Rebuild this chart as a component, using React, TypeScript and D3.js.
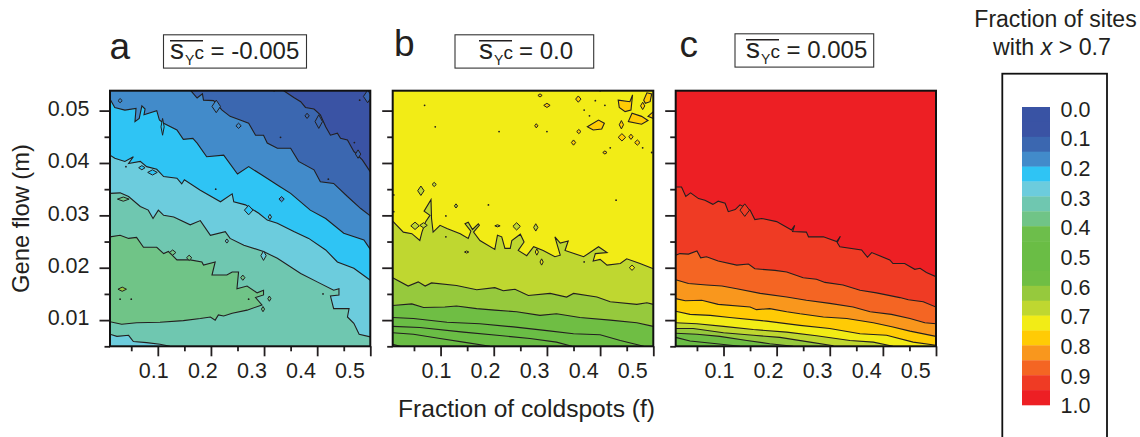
import React, { useEffect, useRef } from "react";
import * as d3 from "d3";

type Pt = [number, number];
type Contour = { level: number; points: Pt[] };

// fill colours of the 20 bands, 0.0 - 1.0
const bandColors = [
  "#3953A4", "#3A53A4", "#3B67B0", "#428BCA", "#2FC4F4",
  "#6CCCDD", "#6FC7B0", "#70C487", "#6DBE4B", "#6ABD45",
  "#6ABD45", "#6FBE44", "#96C93D", "#BFD730", "#F2EC16",
  "#FFCB05", "#F9971D", "#F46523", "#EF3B24", "#ED1F24",
];
const legendLabels = ["0.0", "0.1", "0.2", "0.3", "0.4", "0.5", "0.6", "0.7", "0.8", "0.9", "1.0"];

const fMajor = [0.1, 0.2, 0.3, 0.4, 0.5];
const fMinor = [0.05, 0.15, 0.25, 0.35, 0.45];
const mMajor = [0.01, 0.02, 0.03, 0.04, 0.05];
const mMinor = [0.005, 0.015, 0.025, 0.035, 0.045];

// ---- panel a, contours as [f, m]
const a1: Pt[] = [[.337,.0538],[.356,.0525],[.369,.0517],[.378,.0506],[.394,.0503],[.406,.0492],[.416,.0469],[.425,.0453],[.438,.0457],[.444,.0447],[.457,.0444],[.469,.0422],[.485,.0406],[.5,.0383]];
const a2: Pt[] = [[.162,.0538],[.174,.0524],[.184,.0532],[.186,.052],[.205,.0519],[.221,.0501],[.236,.0489],[.255,.0482],[.271,.0476],[.284,.0453],[.299,.0453],[.306,.0438],[.325,.0428],[.35,.0428],[.365,.0403],[.394,.0387],[.406,.0364],[.431,.0361],[.457,.0336],[.482,.0313],[.5,.0299]];
const a3: Pt[] = [[.01,.0522],[.019,.0506],[.038,.0501],[.059,.0504],[.057,.0479],[.065,.0485],[.07,.0509],[.076,.0503],[.074,.0492],[.098,.05],[.103,.0482],[.111,.0476],[.136,.0463],[.148,.0445],[.166,.0447],[.174,.0438],[.192,.0412],[.224,.0415],[.25,.0379],[.271,.0393],[.296,.0377],[.328,.0356],[.35,.0342],[.387,.031],[.416,.0294],[.45,.0266],[.488,.0253],[.5,.0235]];
const a4: Pt[] = [[.01,.0415],[.019,.0409],[.038,.0403],[.054,.0412],[.045,.0399],[.067,.0403],[.079,.0393],[.098,.0388],[.111,.0374],[.136,.0371],[.145,.036],[.15,.0368],[.18,.0348],[.218,.0326],[.24,.0341],[.243,.0326],[.265,.032],[.29,.0304],[.306,.0291],[.325,.0285],[.356,.0269],[.384,.0256],[.416,.0234],[.438,.0211],[.469,.0199],[.5,.0176]];
const a5: Pt[] = [[.01,.0342],[.029,.0343],[.045,.0336],[.067,.0317],[.082,.031],[.091,.0294],[.101,.031],[.111,.03],[.13,.0297],[.161,.0282],[.18,.029],[.199,.0262],[.227,.0269],[.236,.0256],[.262,.0243],[.299,.0231],[.325,.0218],[.369,.0189],[.4,.0173],[.431,.0157],[.441,.016],[.441,.0148],[.425,.0146],[.431,.0122],[.46,.0122],[.457,.0106],[.469,.0094],[.479,.0073],[.5,.0068]];
const a6: Pt[] = [[.01,.0259],[.029,.0262],[.045,.0256],[.06,.0258],[.073,.0239],[.098,.0239],[.111,.0227],[.12,.0231],[.136,.0215],[.161,.0215],[.183,.0211],[.186,.0205],[.208,.0211],[.202,.0186],[.23,.0186],[.24,.0192],[.252,.0192],[.249,.016],[.268,.0165],[.287,.0152],[.299,.0157],[.299,.0148],[.284,.0143],[.296,.0129],[.268,.0119],[.24,.0113],[.224,.0108],[.214,.011],[.208,.01],[.199,.0106],[.18,.0103],[.148,.0099],[.104,.0096],[.06,.0095],[.032,.0092],[.01,.0097]];
const a7: Pt[] = [[.01,.0073],[.023,.0069],[.045,.0071],[.054,.0059],[.079,.0057],[.104,.0054],[.123,.005]];

// ---- panel b
const b1: Pt[] = [[.01,.0289],[.03,.0268],[.046,.0265],[.061,.0252],[.065,.0268],[.072,.0288],[.08,.03],[.069,.0308],[.082,.033],[.083,.0294],[.086,.0268],[.099,.0281],[.112,.0275],[.137,.0265],[.152,.0256],[.157,.027],[.146,.0284],[.152,.0287],[.16,.0273],[.171,.0284],[.173,.0281],[.162,.0268],[.174,.0252],[.202,.0235],[.207,.0262],[.215,.0259],[.221,.0237],[.231,.0237],[.234,.0252],[.25,.0264],[.257,.0249],[.246,.0233],[.262,.0223],[.275,.024],[.293,.0233],[.315,.0221],[.325,.0224],[.315,.0259],[.325,.0247],[.34,.0251],[.334,.0233],[.369,.0221],[.397,.024],[.413,.0229],[.391,.0227],[.387,.0213],[.4,.0216],[.413,.0205],[.438,.0208],[.45,.0217],[.475,.0208],[.5,.0198]];
const b2: Pt[] = [[.01,.0181],[.039,.0165],[.058,.0173],[.071,.0165],[.083,.0171],[.13,.0166],[.168,.0158],[.202,.0162],[.218,.0156],[.24,.0159],[.265,.0147],[.306,.0151],[.337,.0144],[.35,.0151],[.394,.0144],[.419,.0135],[.469,.013],[.488,.0133],[.5,.013]];
const b3: Pt[] = [[.01,.0128],[.046,.0131],[.068,.0124],[.108,.0125],[.13,.0127],[.168,.0122],[.202,.0119],[.243,.0116],[.287,.0109],[.318,.0112],[.362,.0105],[.419,.01],[.469,.0095],[.5,.0088]];
const b4: Pt[] = [[.01,.0105],[.049,.0103],[.112,.0096],[.174,.0093],[.237,.0087],[.3,.008],[.35,.0074],[.4,.0072],[.438,.0061],[.482,.005]];
const b5: Pt[] = [[.01,.0088],[.061,.0086],[.143,.0077],[.206,.0071],[.268,.0065],[.318,.0058],[.347,.005]];
const b6: Pt[] = [[.01,.0076],[.049,.0073],[.099,.0065],[.143,.0058],[.193,.005]];
const b7: Pt[] = [[.01,.0054],[.024,.005]];

// orange patches at the top right of b
const bPatch1: Pt[] = [[.434,.052],[.456,.0517],[.461,.053],[.458,.0501],[.447,.0498],[.436,.0506]];
const bPatch2: Pt[] = [[.453,.0479],[.46,.0495],[.478,.0489],[.49,.0481],[.478,.0474]];
const bPatch3: Pt[] = [[.376,.0469],[.397,.0482],[.408,.0476],[.403,.0465],[.387,.0463]];
const bPatch4: Pt[] = [[.482,.052],[.488,.0534],[.497,.0532],[.494,.0517],[.485,.0514]];
const bPatch5: Pt[] = [[.49,.0489],[.5,.0498],[.5,.0485]];

// ---- panel c
const c1: Pt[] = [[.01,.0354],[.021,.0354],[.029,.0336],[.038,.0343],[.053,.0332],[.065,.0329],[.08,.0321],[.09,.0327],[.103,.0323],[.109,.0307],[.122,.0311],[.131,.032],[.15,.031],[.159,.0292],[.172,.0294],[.2,.0288],[.228,.0272],[.234,.0281],[.23,.0269],[.256,.0268],[.26,.0259],[.288,.0259],[.313,.025],[.32,.026],[.314,.0248],[.319,.024],[.36,.0234],[.371,.022],[.379,.0229],[.413,.0215],[.419,.0208],[.441,.0208],[.46,.0197],[.47,.0199],[.482,.0191],[.5,.0183]];
const c2: Pt[] = [[.01,.0224],[.018,.0227],[.034,.0226],[.05,.0232],[.057,.0219],[.068,.0221],[.09,.0213],[.125,.0205],[.147,.0207],[.159,.0198],[.197,.0195],[.219,.0192],[.25,.0181],[.275,.0178],[.291,.0172],[.325,.0167],[.357,.0157],[.388,.0152],[.432,.0143],[.448,.0139],[.476,.0135],[.5,.0125]];
const c3: Pt[] = [[.01,.0177],[.034,.017],[.068,.0167],[.097,.0165],[.125,.016],[.169,.0151],[.219,.0144],[.256,.0138],[.3,.0132],[.344,.0125],[.376,.0116],[.416,.0111],[.451,.0103],[.479,.0095],[.5,.0093]];
const c4: Pt[] = [[.01,.0141],[.028,.0137],[.059,.0138],[.09,.013],[.15,.0125],[.162,.012],[.187,.0122],[.219,.0116],[.244,.0112],[.288,.0106],[.332,.0103],[.382,.0095],[.419,.0087],[.451,.0079],[.5,.0069]];
const c5: Pt[] = [[.01,.0117],[.037,.0111],[.075,.0109],[.112,.0105],[.181,.0098],[.244,.009],[.3,.0084],[.357,.0074],[.407,.0071],[.457,.0058],[.5,.0052]];
const c6: Pt[] = [[.01,.0095],[.05,.0093],[.1,.0088],[.156,.0082],[.219,.0077],[.275,.007],[.338,.0061],[.382,.0058],[.419,.005]];
const c7: Pt[] = [[.01,.0084],[.043,.0084],[.1,.0076],[.156,.0071],[.206,.0067],[.263,.0058],[.307,.0051]];
const c8: Pt[] = [[.01,.0075],[.05,.0073],[.093,.0069],[.144,.0061],[.187,.0055],[.231,.005]];
const c9: Pt[] = [[.01,.0067],[.037,.006],[.087,.0055],[.131,.005]];

// small closed contours: f, m, half width in f, half height in m, band value inside
const aIslets = [
  [.029,.0519,.004,.0004,.175],[.21,.0508,.008,.0012,.175],[.252,.0471,.005,.0005,.175],[.381,.049,.004,.0005,.125],
  [.403,.0479,.007,.0013,.125],[.109,.0469,.003,.0016,.225],[.477,.0417,.005,.0008,.125],[.333,.0331,.005,.0005,.175],
  [.271,.031,.008,.0009,.225],[.311,.0297,.003,.0005,.275],[.07,.0391,.006,.0004,.225],[.09,.0382,.009,.0005,.225],
  [.035,.0331,.011,.0004,.375],[.23,.0251,.003,.0004,.275],[.128,.0229,.006,.0005,.375],[.159,.0219,.005,.0005,.375],
  [.299,.0223,.005,.0009,.275],[.26,.0181,.004,.0005,.375],[.033,.0159,.008,.0004,.625],[.31,.0141,.003,.0005,.375],
  [.298,.0121,.003,.0005,.375],[.495,.0527,.008,.0012,.125],
];
const bIslets = [
  [.359,.0522,.005,.0006,.775],[.3,.051,.006,.0004,.775],[.287,.0529,.004,.0003,.775],[.48,.0509,.004,.0007,.775],
  [.44,.0473,.004,.0008,.775],[.441,.0449,.007,.0007,.775],[.458,.045,.004,.0005,.775],[.47,.0439,.005,.0005,.775],
  [.35,.0439,.004,.0005,.775],[.36,.046,.004,.0004,.775],[.28,.0471,.003,.0004,.775],[.409,.042,.004,.0003,.775],
  [.063,.0347,.006,.0009,.675],[.088,.0359,.004,.0004,.675],[.129,.0318,.003,.0004,.675],[.052,.028,.008,.0007,.675],
  [.068,.0281,.007,.0005,.675],[.207,.028,.005,.0002,.675],[.243,.0279,.007,.0007,.675],[.279,.0277,.004,.0007,.675],
  [.281,.023,.003,.0006,.725],[.29,.0211,.003,.0006,.725],[.46,.02,.005,.0005,.725],[.149,.023,.004,.0002,.725],
];
const cIslets = [[.14,.031,.009,.0012,.925]];

// single-cell specks
const aSpecks: Pt[] = [[.319,.0538],[.48,.052],[.331,.0449],[.47,.0439],[.421,.0369],[.209,.035],[.04,.0393],[.029,.014],[.05,.014],[.271,.014],[.411,.015]];
const bSpecks: Pt[] = [[.07,.051],[.09,.0469],[.21,.046],[.3,.046],[.391,.0519],[.409,.051],[.37,.0501],[.38,.049],[.419,.0429],[.48,.0429],[.497,.042],[.4,.0538],[.43,.0329],[.19,.032],[.11,.0299],[.012,.0339],[.012,.0307],[.11,.0259],[.37,.0211]];

const panels = [
  {
    id: "a", x0: 110, x1: 370.3, base: 0.075,
    contours: [
      { level: 0.125, points: a1 }, { level: 0.175, points: a2 }, { level: 0.225, points: a3 }, { level: 0.275, points: a4 },
      { level: 0.325, points: a5 }, { level: 0.375, points: a6 }, { level: 0.275, points: a7 },
    ] as Contour[],
    patches: [] as Pt[][], islets: aIslets, specks: aSpecks,
    letterX: 109.5, letterY: 58.5, box: [163.5, 306.5], barX: 170, eqX: 210.5, eq: "= -0.005", textY: 59.3,
  },
  {
    id: "b", x0: 392.7, x1: 653.3, base: 0.725,
    contours: [
      { level: 0.675, points: b1 }, { level: 0.625, points: b2 }, { level: 0.575, points: b3 }, { level: 0.525, points: b4 },
      { level: 0.475, points: b5 }, { level: 0.525, points: b6 }, { level: 0.475, points: b7 },
    ] as Contour[],
    patches: [bPatch1, bPatch2, bPatch3, bPatch4, bPatch5], islets: bIslets, specks: bSpecks,
    letterX: 394, letterY: 56, box: [455, 593.7], barX: 479, eqX: 519, eq: "= 0.0", textY: 59.3,
  },
  {
    id: "c", x0: 675.7, x1: 936, base: 0.975,
    contours: [
      { level: 0.925, points: c1 }, { level: 0.875, points: c2 }, { level: 0.825, points: c3 }, { level: 0.775, points: c4 },
      { level: 0.725, points: c5 }, { level: 0.675, points: c6 }, { level: 0.625, points: c7 }, { level: 0.575, points: c8 },
      { level: 0.525, points: c9 },
    ] as Contour[],
    patches: [] as Pt[][], islets: cIslets, specks: [] as Pt[],
    letterX: 679.5, letterY: 56.5, box: [735, 873.7], barX: 746, eqX: 786.5, eq: "= 0.005", textY: 58.3,
  },
];

const FONT = "'Liberation Sans', Arial, sans-serif";
const INK = "#231F20";
const F_MIN = 0.01, F_MAX = 0.5, M_MIN = 0.005, M_MAX = 0.0538;

export default function App() {
  const ref = useRef<SVGSVGElement>(null);

  useEffect(() => {
    const svg = d3.select(ref.current);
    svg.selectAll("*").remove();
    svg.style("font-family", FONT);

    const color = d3.scaleQuantize<string>().domain([0, 1]).range(bandColors);
    const y = d3.scaleLinear().domain([M_MIN, M_MAX]).range([346.3, 90.7]);

    const text = (sel: any, str: string, px: number, py: number, size: number, anchor = "start") =>
      sel
        .append("text")
        .attr("x", px)
        .attr("y", py)
        .attr("font-size", size)
        .attr("text-anchor", anchor)
        .attr("fill", INK)
        .text(str);

    panels.forEach((p) => {
      const x = d3.scaleLinear().domain([F_MIN, F_MAX]).range([p.x0, p.x1]);
      // tick labels sit on their own spacing, tighter than the ticks
      const xLabel = d3.scaleLinear().domain([0.1, 0.5]).range([p.x0 + 43.8, p.x0 + 240]);
      const line = d3.line<Pt>().x((d) => x(d[0])).y((d) => y(d[1]));

      // region on the low side of a contour, closed round the plot corners
      const closeRegion = (pts: Pt[]): Pt[] => {
        const first = pts[0];
        const last = pts[pts.length - 1];
        const out = [...pts];
        if (last[0] === F_MIN) return out;
        if (last[0] >= F_MAX) out.push([F_MAX, M_MIN]);
        out.push([F_MIN, M_MIN]);
        if (first[0] > F_MIN) out.push([F_MIN, M_MAX]);
        return out;
      };

      svg
        .append("clipPath")
        .attr("id", "clip-" + p.id)
        .append("rect")
        .attr("x", p.x0)
        .attr("y", y(M_MAX))
        .attr("width", p.x1 - p.x0)
        .attr("height", y(M_MIN) - y(M_MAX));

      const plot = svg.append("g").attr("clip-path", `url(#clip-${p.id})`);
      plot
        .append("rect")
        .attr("x", p.x0)
        .attr("y", y(M_MAX))
        .attr("width", p.x1 - p.x0)
        .attr("height", y(M_MIN) - y(M_MAX))
        .attr("fill", color(p.base));

      plot
        .selectAll(".band")
        .data(p.contours)
        .join("path")
        .attr("d", (c) => line(closeRegion(c.points)) + "Z")
        .attr("fill", (c) => color(c.level));

      plot
        .selectAll(".cline")
        .data(p.contours)
        .join("path")
        .attr("d", (c) => line(c.points))
        .attr("fill", "none")
        .attr("stroke", INK)
        .attr("stroke-width", 1.1);

      plot
        .selectAll(".patch")
        .data(p.patches)
        .join("path")
        .attr("d", (d) => d3.line<Pt>().x((v) => x(v[0])).y((v) => y(v[1])).curve(d3.curveLinearClosed)(d))
        .attr("fill", color(0.775))
        .attr("stroke", INK)
        .attr("stroke-width", 1.1);

      plot
        .selectAll(".islet")
        .data(p.islets)
        .join("path")
        .attr("d", ([f, m, df, dm]) =>
          d3.line<Pt>().x((v) => x(v[0])).y((v) => y(v[1])).curve(d3.curveLinearClosed)([
            [f - df, m],
            [f, m + dm],
            [f + df, m],
            [f, m - dm],
          ])
        )
        .attr("fill", (d) => color(d[4]))
        .attr("stroke", INK)
        .attr("stroke-width", 1);

      plot
        .selectAll(".speck")
        .data(p.specks)
        .join("circle")
        .attr("cx", (d) => x(d[0]))
        .attr("cy", (d) => y(d[1]))
        .attr("r", 0.9)
        .attr("fill", INK);

      // axes: long ticks and short ticks, no domain line
      const drawAxis = (axis: any, len: number) => {
        const g = svg.append("g").call(axis.tickSize(len).tickFormat(() => ""));
        g.select(".domain").remove();
        g.selectAll("line").attr("stroke", INK).attr("stroke-width", 1.8);
        return g;
      };
      drawAxis(d3.axisLeft(y).tickValues(mMajor), 10.5).attr("transform", `translate(${p.x0},0)`);
      drawAxis(d3.axisLeft(y).tickValues(mMinor), 5.5).attr("transform", `translate(${p.x0},0)`);
      drawAxis(d3.axisBottom(x).tickValues(fMajor), 10).attr("transform", `translate(0,${y(M_MIN)})`);
      drawAxis(d3.axisBottom(x).tickValues(fMinor), 5).attr("transform", `translate(0,${y(M_MIN)})`);

      svg
        .append("rect")
        .attr("x", p.x0)
        .attr("y", y(M_MAX))
        .attr("width", p.x1 - p.x0)
        .attr("height", y(M_MIN) - y(M_MAX))
        .attr("fill", "none")
        .attr("stroke", "#111")
        .attr("stroke-width", 2);

      fMajor.forEach((t) => text(svg, String(t), xLabel(t), 378, 21.5, "middle"));

      // panel letter and the boxed selection value
      text(svg, p.id, p.letterX, p.letterY, 37);
      const [bx0, bx1] = p.box;
      svg
        .append("rect")
        .attr("x", bx0)
        .attr("y", p.textY - 24.5)
        .attr("width", bx1 - bx0)
        .attr("height", 33.3)
        .attr("fill", "#fff")
        .attr("stroke", "#333")
        .attr("stroke-width", 1.1);
      svg
        .append("line")
        .attr("x1", p.barX)
        .attr("x2", p.barX + 33)
        .attr("y1", p.textY - 18.6)
        .attr("y2", p.textY - 18.6)
        .attr("stroke", INK)
        .attr("stroke-width", 1.6);
      text(svg, "s", p.barX, p.textY, 28);
      text(svg, "Y", p.barX + 15, p.textY + 5.7, 14);
      text(svg, "c", p.barX + 24.5, p.textY, 19);
      text(svg, p.eq, p.eqX, p.textY, 24);
    });

    mMajor.forEach((t) => text(svg, String(t), 89.5, y(t) + 5.3, 21.5, "end"));

    text(svg, "Fraction of coldspots (f)", 526.5, 417, 24.6, "middle");
    text(svg, "Gene flow (m)", 0, 0, 23.7, "middle").attr("transform", "translate(29,218.5) rotate(-90)");

    // legend
    text(svg, "Fraction of sites", 1055.5, 27, 23, "middle");
    const sub = text(svg, "with ", 1052, 55, 23.2, "middle");
    sub.append("tspan").attr("font-style", "italic").text("x");
    sub.append("tspan").text(" > 0.7");

    svg
      .append("rect")
      .attr("x", 1002.3)
      .attr("y", 73.7)
      .attr("width", 104.7)
      .attr("height", 480)
      .attr("fill", "none")
      .attr("stroke", "#111")
      .attr("stroke-width", 1.8);

    const band = d3.scaleBand<number>().domain(d3.range(bandColors.length)).range([107, 405]);
    svg
      .selectAll(".legend-band")
      .data(bandColors)
      .join("rect")
      .attr("x", 1022)
      .attr("width", 28)
      .attr("y", (_, i) => band(i) as number)
      .attr("height", band.bandwidth() + 0.3)
      .attr("fill", (d) => d);

    const legendY = d3.scaleLinear().domain([0, 1]).range([116.7, 413.3]);
    legendLabels.forEach((l) => text(svg, l, 1060.5, legendY(+l), 21.5));
  }, []);

  return <svg ref={ref} width={1140} height={437} style={{ position: "absolute", left: 0, top: 0, display: "block" }} />;
}
